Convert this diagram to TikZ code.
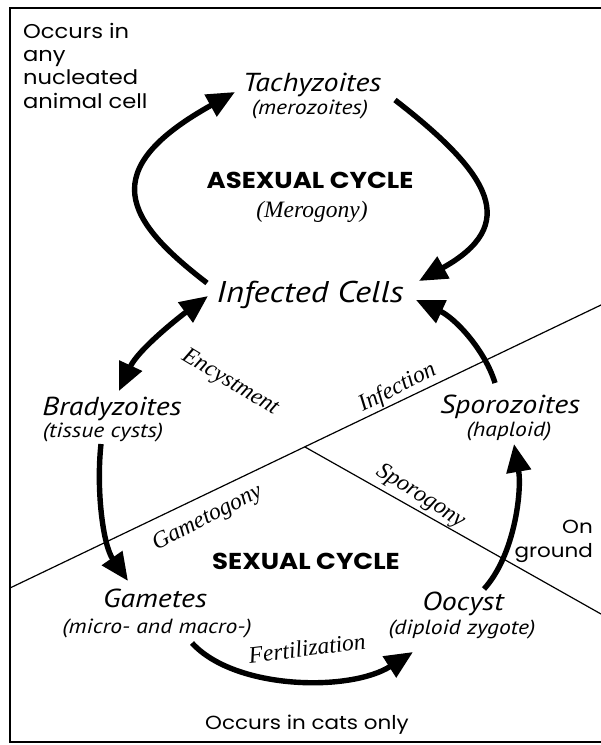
\documentclass[tikz,border=0pt]{standalone}
\usepackage{fontspec}
\usetikzlibrary{arrows.meta}
\newfontfamily\hum[FakeStretch=1.15]{PT Sans}
\newfontfamily\geo[FakeStretch=1.13]{Poppins}
\newfontfamily\calfont{Liberation Serif}
\tikzset{
  x=1pt, y=-1pt,
  frameline/.style={line width=1.3pt, black},
  divline/.style={line width=1.2pt, black},
  cyclearrow/.style={line width=5.4pt, -{Triangle[length=28pt,width=24pt]}},
  bothways/.style={line width=5.4pt, {Triangle[length=28pt,width=24pt]}-{Triangle[length=28pt,width=24pt]}},
  stage/.style={font=\hum\itshape\fontsize{26}{28}\selectfont, inner sep=0pt, anchor=base},
  sub/.style={font=\hum\itshape\fontsize{20.5}{22}\selectfont, inner sep=0pt, anchor=base},
  proc/.style={font=\calfont\itshape\fontsize{23.5}{25}\selectfont, inner sep=0pt},
  cyc/.style={font=\geo\bfseries\fontsize{23}{25}\selectfont, inner sep=0pt, anchor=base},
  note/.style={font=\geo\fontsize{19}{23.3}\selectfont, inner sep=0pt, align=left},
  bignote/.style={note, font=\geo\fontsize{20}{23.3}\selectfont},
}
\begin{document}
\begin{tikzpicture}
\useasboundingbox (0,0) rectangle (601,745);
% frame
\draw[frameline] (601,742) -- (10,742) -- (10,8) -- (601,8);
% dividing lines
\coordinate (L1) at (10,588);
\coordinate (R1) at (601,305);
\coordinate (J) at (305,447);
\coordinate (R2) at (601,614);
\draw[divline] (L1) -- (R1);
\draw[divline] (J) -- (R2);

% texts
\node[bignote, anchor=base west] (occ1) at (23,108) {Occurs in\\any\\nucleated\\animal cell};
\node[stage] (tachy) at (312,91) {Tachyzoites};
\node[sub] (mero) at (310,114) {(merozoites)};
\node[cyc] (asex) at (310,188) {ASEXUAL CYCLE};
\node[proc, anchor=base] (merog) at (312,217) {(Merogony)};
\node[stage, font=\hum\itshape\fontsize{30}{32}\selectfont] (inf) at (310,302) {Infected Cells};
\node[stage] (brady) at (112,415) {Bradyzoites};
\node[sub] (tissue) at (103,437) {(tissue cysts)};
\node[stage] (sporo) at (510,413) {Sporozoites};
\node[sub] (hapl) at (509,436) {(haploid)};
\node[cyc] (sex) at (306,569) {SEXUAL CYCLE};
\node[stage] (game) at (155,607) {Gametes};
\node[sub] (micro) at (157,633) {(micro- and macro-)};
\node[stage] (oocy) at (463,610) {Oocyst};
\node[sub] (dipl) at (462,634) {(diploid zygote)};
\node[note, anchor=base east, align=right] (ground) at (593,557) {On\\ground};
\node[note, anchor=base] (cats) at (307,729) {Occurs in cats only};

% process labels
\node[proc, rotate=-31] (ency) at (230,383) {Encystment};
\node[proc, rotate=27, anchor=base] (infc) at (400,393) {Infection};
\node[proc, rotate=27, anchor=base] (gamet) at (210,523) {Gametogony};
\node[proc, rotate=-32, anchor=base] (sporog) at (418,501) {Sporogony};
\node[proc, rotate=7] (fert) at (307,648) {Fertilization};

% arrow endpoints
\coordinate (a1s) at (207,283);
\coordinate (a1e) at (235,92);
\coordinate (a2s) at (395,100);
\coordinate (a2e) at (419,281);
\coordinate (a3s) at (208,296);
\coordinate (a3e) at (119,391);
\coordinate (a4s) at (495,383);
\coordinate (a4e) at (416,300);
\coordinate (a5s) at (101,444);
\coordinate (a5e) at (128,581);
\coordinate (a6s) at (192,643);
\coordinate (a6e) at (413,652);
\coordinate (a7s) at (484,589);
\coordinate (a7e) at (514,444);

\draw[cyclearrow] (a1s) .. controls (125,220) and (95,170) .. (a1e);
\draw[cyclearrow] (a2s) .. controls (492,175) and (520,225) .. (a2e);
\draw[bothways] (a3s) .. controls (178,318) and (138,350) .. (a3e);
\draw[cyclearrow] (a4s) .. controls (485,350) and (455,318) .. (a4e);
\draw[cyclearrow] (a5s) .. controls (96,490) and (103,545) .. (a5e);
\draw[cyclearrow] (a6s) .. controls (235,690) and (350,692) .. (a6e);
\draw[cyclearrow] (a7s) .. controls (515,555) and (522,490) .. (a7e);
\end{tikzpicture}
\end{document}
